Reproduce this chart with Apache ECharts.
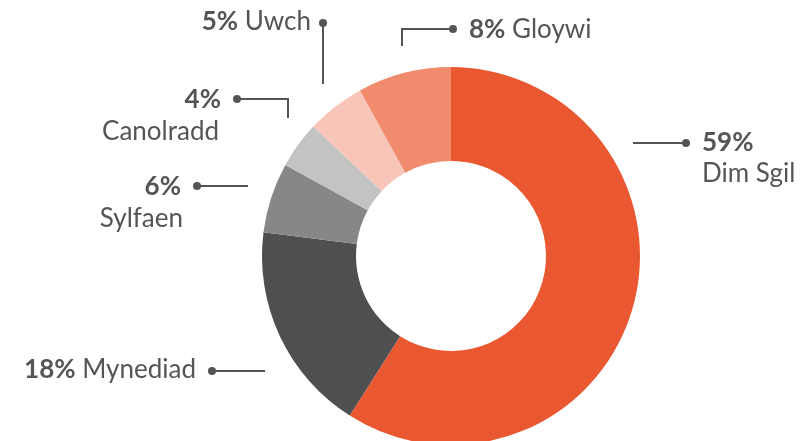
<!DOCTYPE html>
<html><head><meta charset="utf-8">
<script src="https://cdn.jsdelivr.net/npm/echarts@6/dist/echarts.min.js"></script>
<style>html,body{margin:0;padding:0;background:#fff}#c{width:808px;height:441px}</style>
</head><body><div id="c"></div>
<script>
const categories = ['Dim Sgil', 'Mynediad', 'Sylfaen', 'Canolradd', 'Uwch', 'Gloywi'];
const values = [59, 18, 6, 4, 5, 8];
const colors = ['#EA5831', '#4F4F51', '#878787', '#C3C3C3', '#F8C6B8', '#F08B6D'];

const chart = echarts.init(document.getElementById('c'));
const TXT = '#555557';
const FS = 26;
const rich = {
  p: { fontFamily: 'Lato', fontSize: FS, fontWeight: 'bold', fill: TXT, color: TXT },
  n: { fontFamily: 'Lato', fontSize: FS, fontWeight: 'normal', fill: TXT, color: TXT }
};
function pct(i){ return values[i] + '%'; }
function text(str, x, y, align){
  return { type: 'text', silent: true, style: { text: str, x: x, y: y, align: align, verticalAlign: 'middle', rich: rich, font: FS + 'px Lato', fill: TXT } };
}
function line(points){
  return { type: 'polyline', silent: true, shape: { points: points }, style: { stroke: TXT, lineWidth: 2, fill: null } };
}
function dot(x, y){
  return { type: 'circle', silent: true, shape: { cx: x, cy: y, r: 4 }, style: { fill: TXT } };
}
const g = [];
// Dim Sgil
g.push(line([[633,143],[686,143]]), dot(686,143));
g.push(text('{p|' + pct(0) + '}', 702, 143, 'left'), text('{n|' + categories[0] + '}', 702, 174, 'left'));
// Mynediad
g.push(line([[212,371],[265,371]]), dot(212,371));
g.push(text('{p|' + pct(1) + '} {n|' + categories[1] + '}', 196, 370, 'right'));
// Sylfaen
g.push(line([[197,186],[248,186]]), dot(197,186));
g.push(text('{p|' + pct(2) + '}', 181, 187, 'right'), text('{n|' + categories[2] + '}', 183, 219, 'right'));
// Canolradd
g.push(line([[237,99],[288,99],[288,118]]), dot(237,99));
g.push(text('{p|' + pct(3) + '}', 221, 100, 'right'), text('{n|' + categories[3] + '}', 219, 132, 'right'));
// Uwch
g.push(line([[323,23],[323,84]]), dot(323,23));
g.push(text('{p|' + pct(4) + '} {n|' + categories[4] + '}', 311, 22, 'right'));
// Gloywi
g.push(line([[402,46],[402,29],[453,29]]), dot(453,29));
g.push(text('{p|' + pct(5) + '} {n|' + categories[5] + '}', 469, 30, 'left'));

chart.setOption({
  animation: false,
  series: [{
    type: 'pie',
    center: [451, 256],
    radius: [95, 189],
    startAngle: 90,
    clockwise: true,
    silent: true,
    label: { show: false },
    labelLine: { show: false },
    itemStyle: { borderWidth: 0 },
    data: categories.map((c, i) => ({ name: c, value: values[i], itemStyle: { color: colors[i] } }))
  }],
  graphic: g
});
</script></body></html>
